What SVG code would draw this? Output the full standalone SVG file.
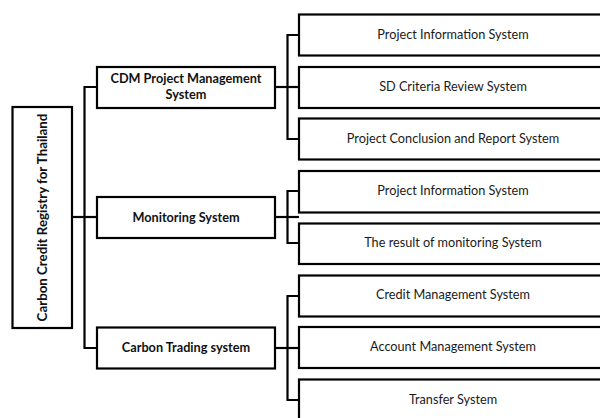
<svg xmlns="http://www.w3.org/2000/svg" width="600" height="418" viewBox="0 0 600 418">
  <style>
    .box { fill: #ffffff; stroke: #000000; stroke-width: 2.2; }
    .wire { fill: none; stroke: #000000; stroke-width: 2.2; }
    .main { font-family: Lato, "Liberation Sans", sans-serif; font-size: 12.7px; font-weight: bold; fill: #111111; text-anchor: middle; }
    .root { font-size: 13.3px; }
    .sub { font-family: Lato, "Liberation Sans", sans-serif; font-size: 12.7px; fill: #1a1a1a; text-anchor: middle; }
  </style>

  <!-- connectors -->
  <g id="connectors">
    <!-- root to second level -->
    <path class="wire" d="M72,217 H97"/>
    <path class="wire" d="M97,87 H84.5 V348 H97"/>
    <!-- CDM branch -->
    <path class="wire" d="M275,87 H299"/>
    <path class="wire" d="M299,35 H287.5 V139 H299"/>
    <!-- Monitoring branch -->
    <path class="wire" d="M275,217 H299"/>
    <path class="wire" d="M299,191 H287.5 V243 H299"/>
    <!-- Trading branch -->
    <path class="wire" d="M275,348 H299"/>
    <path class="wire" d="M299,296 H287.5 V400 H299"/>
  </g>

  <!-- root -->
  <g id="root">
    <rect class="box" x="12.5" y="107" width="59.5" height="221"/>
    <text class="main root" transform="translate(46.5,217.5) rotate(-90)">Carbon Credit Registry for Thailand</text>
  </g>

  <!-- second level -->
  <g id="cdm">
    <rect class="box" x="97" y="67" width="178" height="41"/>
    <text class="main" x="186" y="83">CDM Project Management</text>
    <text class="main" x="186" y="99">System</text>
  </g>
  <g id="monitoring">
    <rect class="box" x="97" y="197" width="178" height="41"/>
    <text class="main" x="186" y="221.5">Monitoring System</text>
  </g>
  <g id="trading">
    <rect class="box" x="97" y="327.5" width="178" height="41"/>
    <text class="main" x="186" y="352">Carbon Trading system</text>
  </g>

  <!-- third level -->
  <g id="cdm-info">
    <rect class="box" x="299" y="14.5" width="308" height="41"/>
    <text class="sub" x="453" y="39">Project Information System</text>
  </g>
  <g id="cdm-sd">
    <rect class="box" x="299" y="67" width="308" height="41"/>
    <text class="sub" x="453" y="91">SD Criteria Review System</text>
  </g>
  <g id="cdm-report">
    <rect class="box" x="299" y="118.5" width="308" height="41"/>
    <text class="sub" x="453" y="143">Project Conclusion and Report System</text>
  </g>
  <g id="mon-info">
    <rect class="box" x="299" y="171" width="308" height="41.5"/>
    <text class="sub" x="453" y="195">Project Information System</text>
  </g>
  <g id="mon-result">
    <rect class="box" x="299" y="223.5" width="308" height="40.5"/>
    <text class="sub" x="453" y="247">The result of monitoring System</text>
  </g>
  <g id="trade-credit">
    <rect class="box" x="299" y="275.5" width="308" height="41"/>
    <text class="sub" x="453" y="299">Credit Management System</text>
  </g>
  <g id="trade-account">
    <rect class="box" x="299" y="327" width="308" height="41"/>
    <text class="sub" x="453" y="351">Account Management System</text>
  </g>
  <g id="trade-transfer">
    <rect class="box" x="299" y="379.5" width="308" height="41"/>
    <text class="sub" x="453" y="404">Transfer System</text>
  </g>
</svg>
